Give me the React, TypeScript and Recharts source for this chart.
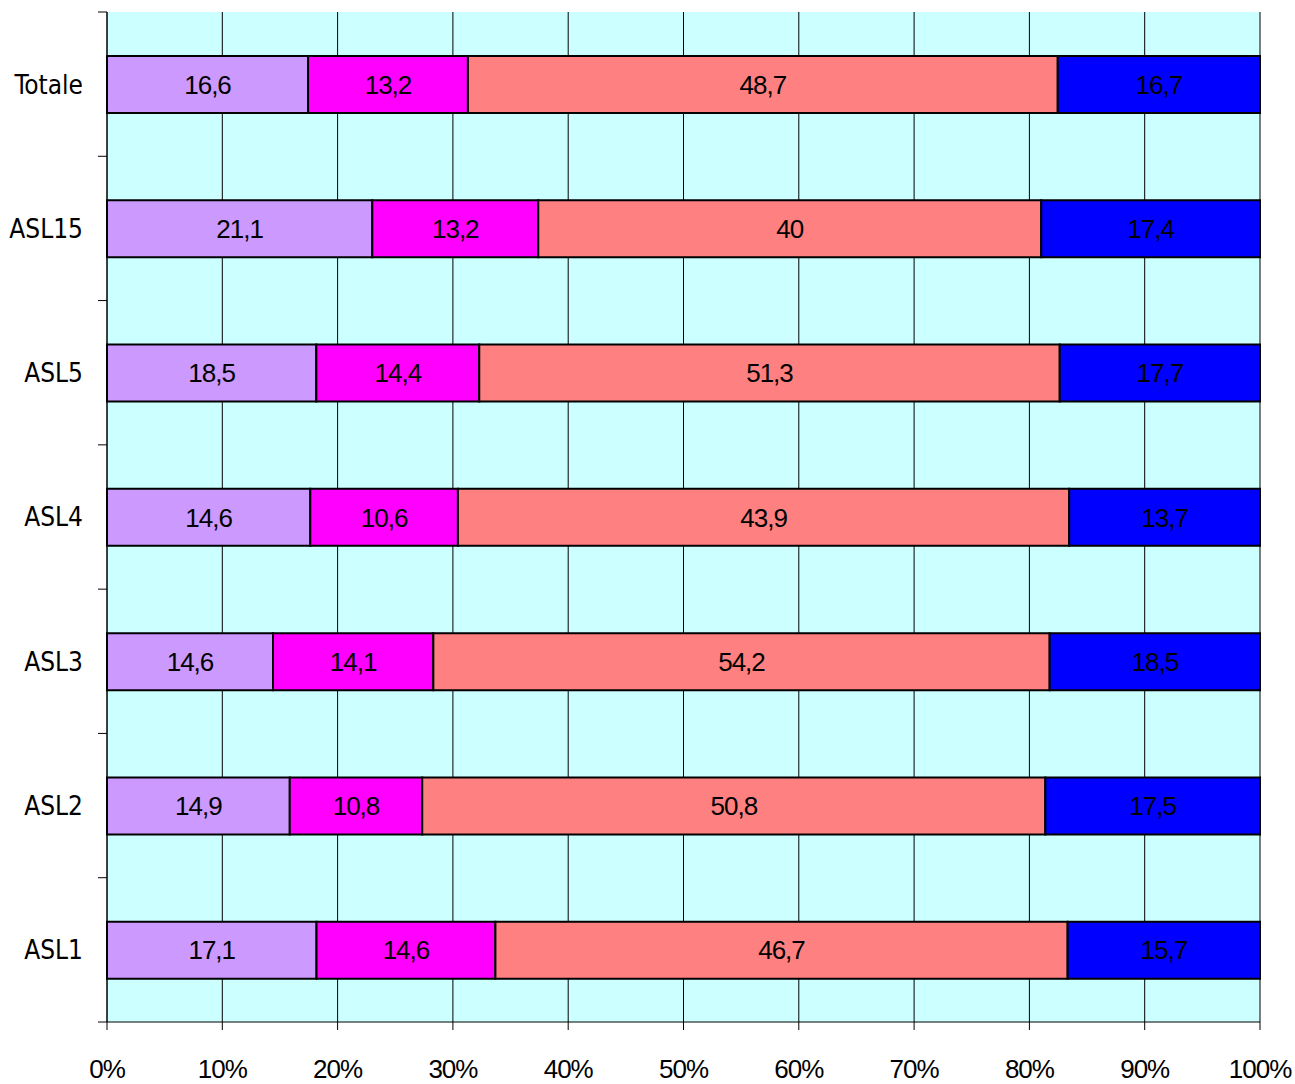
import React from 'react';
import {
  BarChart,
  Bar,
  XAxis,
  YAxis,
  CartesianGrid,
  LabelList,
} from 'recharts';

const categories = ['Totale', 'ASL15', 'ASL5', 'ASL4', 'ASL3', 'ASL2', 'ASL1'];
const serieA = [16.6, 21.1, 18.5, 14.6, 14.6, 14.9, 17.1];
const serieB = [13.2, 13.2, 14.4, 10.6, 14.1, 10.8, 14.6];
const serieC = [48.7, 40, 51.3, 43.9, 54.2, 50.8, 46.7];
const serieD = [16.7, 17.4, 17.7, 13.7, 18.5, 17.5, 15.7];
const xTicks = [0, 0.1, 0.2, 0.3, 0.4, 0.5, 0.6, 0.7, 0.8, 0.9, 1];

const data = categories.map((name, i) => ({
  name,
  a: serieA[i],
  b: serieB[i],
  c: serieC[i],
  d: serieD[i],
}));

const numFont = '"Liberation Sans", Arial, sans-serif';
const catFont = '"DejaVu Sans Condensed", "DejaVu Sans", sans-serif';
const band = 1010 / categories.length;

const fmt = (v: any) => String(v).replace('.', ',');

// category label plus tick marks drawn at the band edges
const CatTick = (props: any) => {
  const { x, y, payload, index } = props;
  const ax = x + 8; // axis line position
  return (
    <g>
      <text
        x={ax - 24}
        y={y}
        dy="0.36em"
        textAnchor="end"
        fontFamily={catFont}
        fontSize={26}
        fill="#000"
      >
        {payload.value}
      </text>
      {index === 0 && (
        <line x1={ax - 9} x2={ax} y1={y - band / 2} y2={y - band / 2} stroke="#000" />
      )}
      <line x1={ax - 9} x2={ax} y1={y + band / 2} y2={y + band / 2} stroke="#000" />
    </g>
  );
};

const labelStyle = { fontFamily: numFont, fontSize: 26, letterSpacing: -1, fill: '#000' };

const App = () => (
  <div style={{ position: 'absolute', left: 0, top: 0 }}>
    <BarChart
      width={1295}
      height={1084}
      data={data}
      layout="vertical"
      stackOffset="expand"
      barSize={57}
      margin={{ top: 12, right: 35, bottom: 0, left: 0 }}
    >
      <CartesianGrid
        horizontal={false}
        stroke="#000"
        strokeWidth={1}
        fill="#CCFFFF"
        fillOpacity={1}
      />
      <XAxis
        type="number"
        domain={[0, 1]}
        ticks={xTicks}
        tickFormatter={(v: number) => `${Math.round(v * 100)}%`}
        height={62}
        tickSize={8}
        tickMargin={30}
        stroke="#000"
        tick={{ fontFamily: numFont, fontSize: 26, letterSpacing: -1, fill: '#000' }}
        interval={0}
      />
      <YAxis
        type="category"
        dataKey="name"
        width={107}
        tickLine={false}
        stroke="#000"
        tick={<CatTick />}
        interval={0}
      />
      <Bar dataKey="a" stackId="s" fill="#CC99FF" stroke="#000" strokeWidth={2} isAnimationActive={false}>
        <LabelList dataKey="a" position="center" formatter={fmt} style={labelStyle} />
      </Bar>
      <Bar dataKey="b" stackId="s" fill="#FF00FF" stroke="#000" strokeWidth={2} isAnimationActive={false}>
        <LabelList dataKey="b" position="center" formatter={fmt} style={labelStyle} />
      </Bar>
      <Bar dataKey="c" stackId="s" fill="#FF8080" stroke="#000" strokeWidth={2} isAnimationActive={false}>
        <LabelList dataKey="c" position="center" formatter={fmt} style={labelStyle} />
      </Bar>
      <Bar dataKey="d" stackId="s" fill="#0000FF" stroke="#000" strokeWidth={2} isAnimationActive={false}>
        <LabelList dataKey="d" position="center" formatter={fmt} style={labelStyle} />
      </Bar>
    </BarChart>
  </div>
);

export default App;
